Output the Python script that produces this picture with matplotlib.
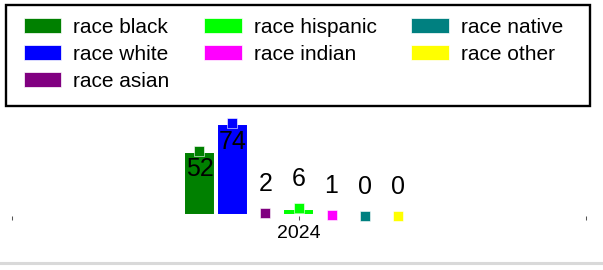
"""Race counts for 2024 as grouped bars with a boxed legend."""

import numpy as np
import matplotlib
matplotlib.use('Agg')
import matplotlib.pyplot as plt
from matplotlib.patches import Rectangle
from matplotlib.lines import Line2D

plt.rcParams['font.family'] = ['Liberation Sans', 'DejaVu Sans']

YEAR = 2024
CATEGORIES = ['race black', 'race white', 'race asian', 'race hispanic',
              'race indian', 'race native', 'race other']
VALUES = [52, 74, 2, 6, 1, 0, 0]
COLORS = ['#008000', '#0000ff', '#800080', '#00ff00',
          '#ff00ff', '#008080', '#ffff00']

W, H = 603, 270


def px_x(x):
    return x / W


def px_y(y):
    # pixel row from top -> figure fraction
    return (H - y) / H


fig = plt.figure(figsize=(W / 100, H / 100), dpi=100)
ax = fig.add_axes([px_x(11.5), px_y(216), px_x(585.5) - px_x(11.5), px_y(110) - px_y(216)])

step = 0.115
n = len(CATEGORIES)
for i, (cat, val, col) in enumerate(zip(CATEGORIES, VALUES, COLORS)):
    x = YEAR + (i - (n - 1) / 2) * step
    ax.bar(x, val, width=step, color=col, edgecolor='white', linewidth=2.9, label=cat)
    ax.plot([x], [val], marker='s', markersize=7.4, color=col,
            markeredgecolor='white', markeredgewidth=0.4, clip_on=False, zorder=3)
    if val > 20:
        off = -13.3
    else:
        off = 21
    ax.annotate(str(val), (x, val), xytext=(0, off), textcoords='offset points',
                ha='center', va='center', fontsize=18, color='black', zorder=4)

ax.set_xlim(YEAR - 1, YEAR + 1)
ax.set_ylim(0, 106 / 1.255)
ax.set_xticks([YEAR - 1, YEAR, YEAR + 1])
ax.set_xticklabels(['', str(YEAR), ''])
ax.tick_params(axis='x', length=3, width=0.75, color='#555555', labelsize=14, pad=3.5)
ax.set_yticks([])
for s in ax.spines.values():
    s.set_visible(False)
ax.patch.set_alpha(0)

handles, labels = ax.get_legend_handles_labels()
leg = fig.legend(handles, labels, loc='upper left', ncol=3, frameon=False,
                 bbox_to_anchor=(px_x(24), px_y(18)), fontsize=15,
                 handlelength=1.78, handleheight=0.7, handletextpad=0.58,
                 columnspacing=1.68, labelspacing=0.38, borderpad=0, borderaxespad=0)
for h in leg.legend_handles:
    h.set_linewidth(0.5)

fig.add_artist(Rectangle((px_x(6), px_y(105.5)), px_x(590) - px_x(6), px_y(5) - px_y(105.5),
                         transform=fig.transFigure, fill=False, edgecolor='black', linewidth=1.7))
fig.add_artist(Line2D([0, 1], [px_y(262.5), px_y(262.5)], transform=fig.transFigure,
                      color='#d9d9d9', linewidth=2.2))

fig.savefig('out.png', dpi=100)
